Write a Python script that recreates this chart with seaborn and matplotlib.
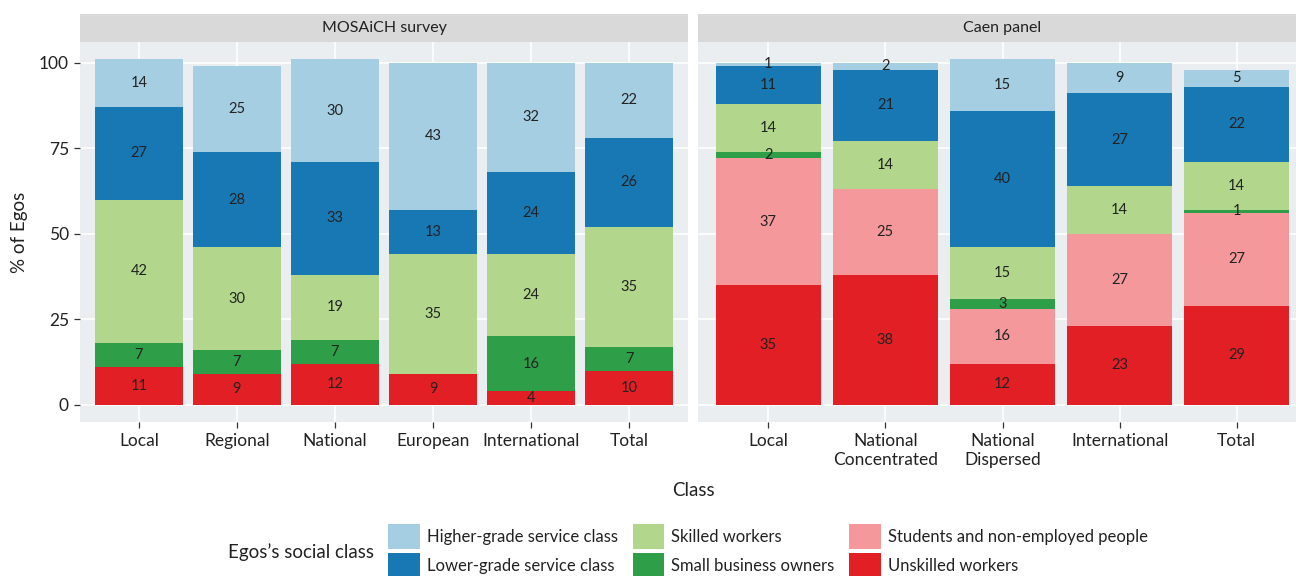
import numpy as np
import pandas as pd
import matplotlib
matplotlib.use("Agg")
import matplotlib.pyplot as plt
import matplotlib.patches as mpatches
import seaborn as sns

# ---- data ----
classes = ["Higher-grade service class", "Lower-grade service class", "Skilled workers",
           "Small business owners", "Students and non-employed people", "Unskilled workers"]
colors = ["#A6CEE3", "#1878B4", "#B2D78C", "#2E9F48", "#F4989B", "#E31F26"]

mosaich_cats = ["Local", "Regional", "National", "European", "International", "Total"]
mosaich_higher = [14, 25, 30, 43, 32, 22]
mosaich_lower = [27, 28, 33, 13, 24, 26]
mosaich_skilled = [42, 30, 19, 35, 24, 35]
mosaich_small = [7, 7, 7, 0, 16, 7]
mosaich_students = [0, 0, 0, 0, 0, 0]
mosaich_unskilled = [11, 9, 12, 9, 4, 10]

caen_cats = ["Local", "National\nConcentrated", "National\nDispersed", "International", "Total"]
caen_higher = [1, 2, 15, 9, 5]
caen_lower = [11, 21, 40, 27, 22]
caen_skilled = [14, 14, 15, 14, 14]
caen_small = [2, 0, 3, 0, 1]
caen_students = [37, 25, 16, 27, 27]
caen_unskilled = [35, 38, 12, 23, 29]

panels = [
    ("MOSAiCH survey", mosaich_cats,
     [mosaich_higher, mosaich_lower, mosaich_skilled, mosaich_small, mosaich_students, mosaich_unskilled]),
    ("Caen panel", caen_cats,
     [caen_higher, caen_lower, caen_skilled, caen_small, caen_students, caen_unskilled]),
]

sns.set_theme(style="white")
plt.rcParams["font.family"] = ["Lato", "DejaVu Sans"]

W, H = 1296, 576
fig = plt.figure(figsize=(W / 100, H / 100), dpi=100)

panel_bg = "#EBEEF0"
strip_bg = "#D9D9D9"
txt_col = "#222222"

boxes = [(80, 688), (698, 1307)]
py0, py1 = 42, 422
sy0 = 14

for (title, cats, layers), (x0, x1) in zip(panels, boxes):
    ax = fig.add_axes([x0 / W, 1 - py1 / H, (x1 - x0) / W, (py1 - py0) / H])
    ax.set_facecolor(panel_bg)
    bottom_up = list(reversed(range(len(classes))))
    cum = np.zeros(len(cats))
    tops = {}
    bots = {}
    for i in bottom_up:
        bots[i] = cum.copy()
        cum = cum + np.array(layers[i], dtype=float)
        tops[i] = cum.copy()
    # draw tallest cumulative first, then overlay lower ones
    for i in range(len(classes)):
        df = pd.DataFrame({"cat": cats, "val": tops[i]})
        sns.barplot(data=df, x="cat", y="val", order=cats, color=colors[i],
                    width=0.9, saturation=1, ax=ax, zorder=2, linewidth=0)
    for i in range(len(classes)):
        for j, c in enumerate(cats):
            v = layers[i][j]
            if v > 0:
                ax.text(j, bots[i][j] + v / 2, str(v), ha="center", va="center",
                        fontsize=10.5, color=txt_col, zorder=5)
    ax.set_xlim(-0.6, len(cats) - 0.4)
    ax.set_ylim(-5.05, 106.05)
    ax.set_yticks([0, 25, 50, 75, 100])
    ax.grid(True, color="white", linewidth=1.1, zorder=0)
    ax.set_axisbelow(True)
    for s in ax.spines.values():
        s.set_visible(False)
    ax.set_xlabel("")
    ax.set_ylabel("")
    ax.tick_params(axis="both", length=4, width=0.9, color="#333333", labelsize=12.5,
                   labelcolor=txt_col, pad=4, left=True, bottom=True)
    if x0 != 80:
        ax.tick_params(axis="y", left=False, labelleft=False)
    else:
        ax.set_ylabel("% of Egos", fontsize=13.5, color=txt_col, labelpad=8)
    sax = fig.add_axes([x0 / W, 1 - py0 / H, (x1 - x0) / W, (py0 - sy0) / H])
    sax.set_facecolor(strip_bg)
    sax.set_xticks([])
    sax.set_yticks([])
    for s in sax.spines.values():
        s.set_visible(False)
    sax.text(0.5, 0.5, title, ha="center", va="center", fontsize=11.5, color=txt_col,
             transform=sax.transAxes)

fig.text(693 / W, 1 - 491 / H, "Class", ha="center", va="center",
         fontsize=13.5, color=txt_col)

handles = [mpatches.Patch(facecolor=c, edgecolor="none", label=l) for c, l in zip(colors, classes)]
fig.legend(handles=handles, ncol=3, loc="center", bbox_to_anchor=(768 / W, 1 - 551 / H),
           frameon=False, fontsize=12, handlelength=1.9, handleheight=1.9,
           handletextpad=0.4, columnspacing=0.9, labelspacing=0.25, labelcolor=txt_col)
fig.text(301 / W, 1 - 552 / H, "Egos\u2019s social class", ha="center", va="center",
         fontsize=13.5, color=txt_col)

fig.savefig("out.png", dpi=100, facecolor="white")
